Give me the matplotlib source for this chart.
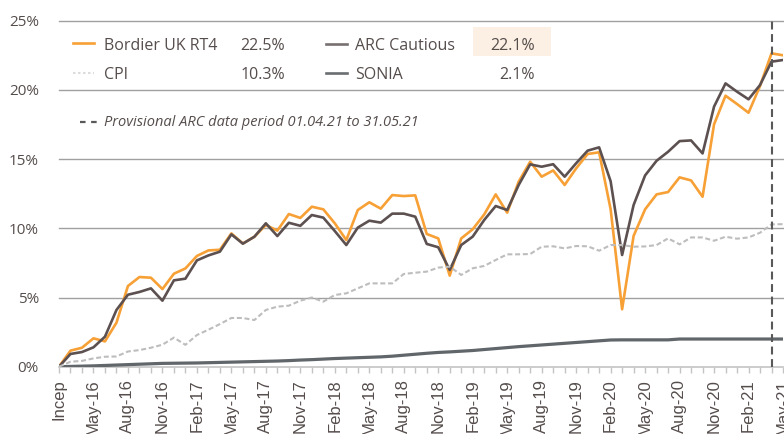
import matplotlib
matplotlib.use("Agg")
import matplotlib.pyplot as plt
from matplotlib.lines import Line2D
from matplotlib.patches import Rectangle

# ---------------- data (cumulative %, monthly from inception Feb-16) ----------------
tick_labels = ["Incep", "May-16", "Aug-16", "Nov-16", "Feb-17", "May-17", "Aug-17",
               "Nov-17", "Feb-18", "May-18", "Aug-18", "Nov-18", "Feb-19", "May-19",
               "Aug-19", "Nov-19", "Feb-20", "May-20", "Aug-20", "Nov-20", "Feb-21",
               "May-21"]

bordier = [0.0, 1.16, 1.37, 2.05, 1.83, 3.18, 5.83, 6.48, 6.43, 5.61,
           6.72, 7.10, 8.00, 8.40, 8.45, 9.63, 8.90, 9.39, 10.24, 9.83,
           11.03, 10.75, 11.56, 11.37, 10.36, 9.15, 11.32, 11.88, 11.42, 12.40,
           12.33, 12.38, 9.59, 9.27, 6.58, 9.27, 9.93, 11.00, 12.45, 11.13,
           13.37, 14.81, 13.73, 14.18, 13.13, 14.33, 15.37, 15.49, 11.38, 4.15,
           9.45, 11.37, 12.45, 12.62, 13.68, 13.46, 12.28, 17.51, 19.58, 18.98,
           18.35, 20.28, 22.64, 22.50]

arc_cautious = [0.0, 0.92, 1.06, 1.40, 2.17, 4.10, 5.20, 5.40, 5.66, 4.77,
                6.24, 6.36, 7.68, 8.04, 8.31, 9.56, 8.89, 9.39, 10.36, 9.44,
                10.40, 10.18, 10.96, 10.77, 9.80, 8.79, 10.05, 10.55, 10.41, 11.06,
                11.06, 10.84, 8.87, 8.63, 6.99, 8.79, 9.40, 10.60, 11.61, 11.32,
                13.13, 14.62, 14.45, 14.63, 13.73, 14.70, 15.61, 15.85, 13.40, 8.07,
                11.68, 13.82, 14.88, 15.53, 16.30, 16.35, 15.41, 18.79, 20.47, 19.87,
                19.32, 20.35, 22.04, 22.16]

cpi = [0.0, 0.36, 0.42, 0.60, 0.72, 0.74, 1.10, 1.20, 1.37, 1.59,
       2.10, 1.58, 2.29, 2.67, 3.08, 3.52, 3.52, 3.37, 4.10, 4.34,
       4.41, 4.77, 5.00, 4.70, 5.18, 5.30, 5.66, 6.02, 6.02, 6.02,
       6.70, 6.79, 6.87, 7.16, 7.23, 6.63, 7.11, 7.28, 7.71, 8.12,
       8.12, 8.14, 8.67, 8.70, 8.55, 8.72, 8.70, 8.38, 8.79, 8.79,
       8.67, 8.69, 8.79, 9.27, 8.84, 9.34, 9.34, 9.10, 9.39, 9.25,
       9.34, 9.68, 10.28, 10.30]

sonia = [0.0, 0.02, 0.04, 0.06, 0.09, 0.12, 0.15, 0.18, 0.21, 0.24,
         0.25, 0.26, 0.27, 0.29, 0.31, 0.33, 0.35, 0.37, 0.39, 0.41,
         0.44, 0.48, 0.51, 0.55, 0.59, 0.62, 0.65, 0.68, 0.71, 0.76,
         0.83, 0.90, 0.97, 1.03, 1.07, 1.12, 1.17, 1.24, 1.31, 1.38,
         1.45, 1.51, 1.57, 1.63, 1.69, 1.75, 1.81, 1.87, 1.93, 1.94,
         1.94, 1.94, 1.94, 1.94, 2.00, 2.00, 2.00, 2.00, 2.00, 2.00,
         2.00, 2.00, 2.00, 2.00]

legend_names = ["Bordier UK RT4", "ARC Cautious", "CPI", "SONIA"]
legend_values = ["22.5%", "22.1%", "10.3%", "2.1%"]
provisional_month = 62   # index of Apr-21
note_text = "Provisional ARC data period 01.04.21 to 31.05.21"

# ---------------- style ----------------
C_ORANGE = "#f7a035"
C_ARC = "#5c5050"
C_SONIA = "#60666a"
C_CPI = "#bdbdbd"
C_TEXT = "#554d4c"
C_GRID = "#a0a0a0"
C_AXIS = "#c4c4c4"

W, H = 784, 434
fig = plt.figure(figsize=(W / 100, H / 100), dpi=100)
ax = fig.add_axes([59 / W, 1 - 366.7 / H, (783 - 59) / W, (366.7 - 20.7) / H])

x = list(range(len(bordier)))

ax.plot(x, sonia, color=C_SONIA, lw=2.3, solid_capstyle="butt", zorder=3)
ax.plot(x, bordier, color=C_ORANGE, lw=1.9, zorder=4)
ax.plot(x, arc_cautious, color=C_ARC, lw=1.9, zorder=5)
ax.plot(x, cpi, color=C_CPI, lw=1.5, dashes=(2.4, 1.3), zorder=6)

ax.plot([provisional_month, provisional_month], [0, 25], color="#595959", lw=1.5,
        dashes=(3.8, 2.2), zorder=7)

ax.set_xlim(0, len(bordier) - 1)
ax.set_ylim(0, 25)

# y axis
ax.set_yticks([0, 5, 10, 15, 20, 25])
ax.set_yticklabels([f"{v}%" for v in [0, 5, 10, 15, 20, 25]])
ax.tick_params(axis="y", length=0, pad=14.5, labelsize=11, labelcolor=C_TEXT)
for lab in ax.get_yticklabels():
    lab.set_fontfamily("Open Sans")
for v in [5, 10, 15, 20, 25]:
    ax.axhline(v, color=C_GRID, lw=1.0, zorder=1, clip_on=False)

# x axis: tick every month, label every 3 months
ax.set_xticks(x)
labels_full = []
for i in x:
    labels_full.append(tick_labels[i // 3] if i % 3 == 0 else "")
ax.set_xticklabels(labels_full, rotation=90, fontsize=12, color=C_TEXT,
                   fontfamily="Liberation Sans")
ax.tick_params(axis="x", length=4.5, width=1.0, color=C_AXIS, pad=4.5)

for s in ["top", "right", "left"]:
    ax.spines[s].set_visible(False)
ax.spines["bottom"].set_color(C_AXIS)
ax.spines["bottom"].set_linewidth(1.2)
ax.spines["bottom"].set_zorder(2)


# ---------------- legend in pixel coordinates ----------------
def fx(px):
    return px / W


def fy(py):
    return 1 - py / H


def sample(x0, x1, y, **kw):
    fig.add_artist(Line2D([fx(x0), fx(x1)], [fy(y), fy(y)], transform=fig.transFigure, **kw))


fig.add_artist(Rectangle((fx(473), fy(55.7)), (551 - 473) / W, (55.7 - 27.3) / H,
                         transform=fig.transFigure, facecolor="#fcf0e4", edgecolor="none"))

lf = dict(fontfamily="Open Sans", fontsize=11.5, color=C_TEXT, va="baseline")
sample(73, 94, 42.5, color=C_ORANGE, lw=1.9)
sample(326, 347, 43.5, color="#777070", lw=1.9)
sample(73, 94, 73.3, color="#dcdcdc", lw=1.5, dashes=(1.2, 1.2))
sample(326, 347, 73.3, color="#6a6e70", lw=1.9)

fig.text(fx(104), fy(50), legend_names[0], ha="left", **lf)
fig.text(fx(285), fy(50), legend_values[0], ha="right", **lf)
fig.text(fx(355), fy(50), legend_names[1], ha="left", **lf)
fig.text(fx(534.5), fy(50), legend_values[1], ha="right", **lf)
fig.text(fx(104), fy(79), legend_names[2], ha="left", **lf)
fig.text(fx(285), fy(79), legend_values[2], ha="right", **lf)
fig.text(fx(355), fy(79), legend_names[3], ha="left", **lf)
fig.text(fx(534.5), fy(79), legend_values[3], ha="right", **lf)

sample(80, 98, 121.7, color="#595959", lw=1.6, dashes=(2.5, 2.5))
fig.text(fx(104), fy(126.5), note_text, ha="left", fontfamily="Open Sans",
         fontstyle="italic", fontsize=10.5, color=C_TEXT, va="baseline")

fig.savefig("out.png", dpi=100)
